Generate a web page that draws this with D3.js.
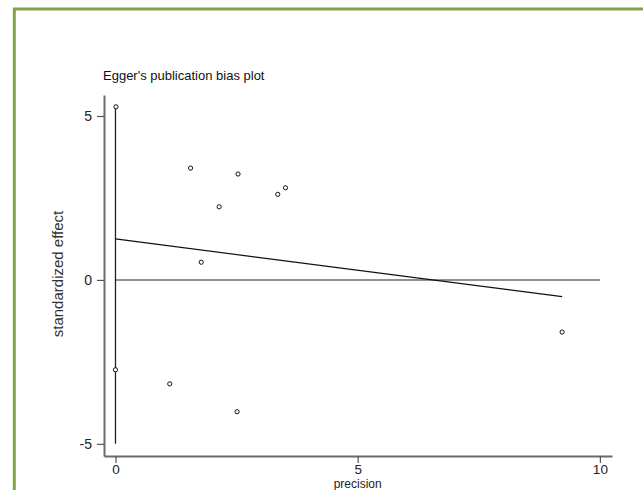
<!DOCTYPE html>
<html>
<head>
<meta charset="utf-8">
<script src="https://cdn.jsdelivr.net/npm/d3@7"></script>
<style>
  html, body { margin: 0; padding: 0; background: #fff; overflow: hidden; }
  svg { display: block; font-family: "Liberation Sans", Arial, sans-serif; }
</style>
</head>
<body>
<svg id="chart" width="643" height="490"></svg>
<script>
// ---- data ----
const title = "Egger's publication bias plot";
const xLabel = "precision";
const yLabel = "standardized effect";
const precision = [0.01, 1.55, 2.53, 2.14, 3.35, 3.51, 1.77, 0.0, 1.12, 2.51, 9.22];
const stdEffect = [5.28, 3.41, 3.23, 2.23, 2.61, 2.81, 0.54, -2.74, -3.17, -4.02, -1.59];
const fitX = [0, 9.22];
const fitY = [1.25, -0.51];
const ciX = [0, 0];
const ciY = [-5, 5.28];
const refX = [0, 10];
const refY = [0, 0];
const xTicks = [0, 5, 10];
const yTicks = [-5, 0, 5];

// ---- drawing ----
const svg = d3.select("#chart");

// frame border
svg.append("rect")
  .attr("x", 14.3).attr("y", 9)
  .attr("width", 800).attr("height", 700)
  .attr("fill", "none")
  .attr("stroke", "#80a545")
  .attr("stroke-width", 3);

const x = d3.scaleLinear().domain([-0.237, 10.25]).range([104, 612]);
const y = d3.scaleLinear().domain([-5.37, 5.64]).range([456, 95]);

// axes
const xAxis = d3.axisBottom(x).tickValues(xTicks).tickSize(7).tickSizeOuter(0).tickPadding(1);
const yAxis = d3.axisLeft(y).tickValues(yTicks).tickSize(7).tickSizeOuter(0).tickPadding(5)
  .tickFormat(d => d < 0 ? "-" + Math.abs(d) : d);

const gx = svg.append("g").attr("transform", "translate(0,456)").call(xAxis);
const gy = svg.append("g").attr("transform", "translate(104,0)").call(yAxis);
[gx, gy].forEach(g => {
  g.select(".domain").attr("stroke", "#6b6b6b").attr("stroke-width", 2);
  g.selectAll(".tick line").attr("stroke", "#555").attr("stroke-width", 1.2);
  g.selectAll(".tick text").attr("fill", "#222")
    .style("font-family", "'Liberation Sans', Arial, sans-serif").style("font-size", "14px");
});
gx.selectAll(".tick text").style("font-size", "13.5px");

// reference line at zero
svg.append("line")
  .attr("x1", x(refX[0])).attr("x2", x(refX[1]))
  .attr("y1", y(refY[0])).attr("y2", y(refY[1]))
  .attr("stroke", "#6b6b6b").attr("stroke-width", 1.6);

// vertical CI line at precision 0
svg.append("line")
  .attr("x1", x(ciX[0])).attr("x2", x(ciX[1]))
  .attr("y1", y(ciY[0])).attr("y2", y(ciY[1]))
  .attr("stroke", "#222").attr("stroke-width", 1.3);

// regression line
svg.append("line")
  .attr("x1", x(fitX[0])).attr("x2", x(fitX[1]))
  .attr("y1", y(fitY[0])).attr("y2", y(fitY[1]))
  .attr("stroke", "#111").attr("stroke-width", 1.2);

// points
svg.append("g").selectAll("circle")
  .data(precision.map((p, i) => [p, stdEffect[i]]))
  .join("circle")
  .attr("cx", d => x(d[0])).attr("cy", d => y(d[1]))
  .attr("r", 2.1)
  .attr("fill", "#fff").attr("stroke", "#111").attr("stroke-width", 1);

// title
svg.append("text")
  .attr("x", 103).attr("y", 80)
  .attr("fill", "#111").style("font-size", "13px")
  .text(title);

// axis titles
svg.append("text")
  .attr("x", x(5)).attr("y", 487.5)
  .attr("text-anchor", "middle")
  .attr("fill", "#222").style("font-size", "12px")
  .text(xLabel);

svg.append("text")
  .attr("transform", "translate(63,274) rotate(-90)")
  .attr("text-anchor", "middle")
  .attr("fill", "#333").style("font-size", "15px")
  .text(yLabel);
</script>
</body>
</html>
